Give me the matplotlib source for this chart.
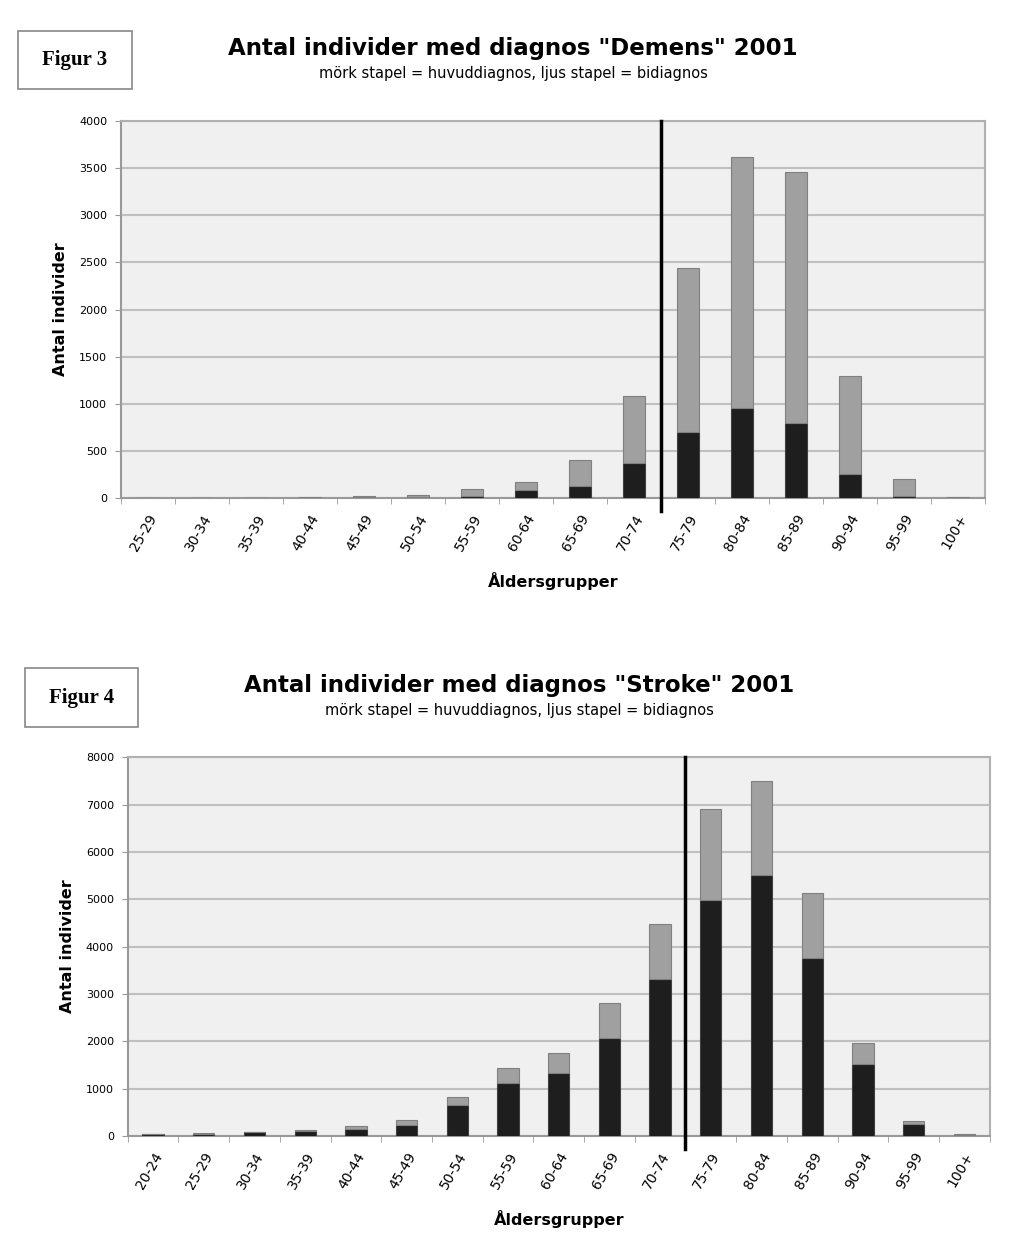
import numpy as np
import matplotlib.pyplot as plt
from matplotlib.patches import Rectangle

# Figur 3 - Demens
dem_groups = ["25-29", "30-34", "35-39", "40-44", "45-49", "50-54", "55-59", "60-64",
              "65-69", "70-74", "75-79", "80-84", "85-89", "90-94", "95-99", "100+"]
dem_main = [0, 0, 0, 3, 10, 15, 25, 85, 130, 368, 703, 951, 792, 254, 20, 3]
dem_total = [0, 0, 0, 15, 20, 35, 95, 172, 403, 1081, 2445, 3618, 3459, 1297, 198, 15]

# Figur 4 - Stroke
str_groups = ["20-24", "25-29", "30-34", "35-39", "40-44", "45-49", "50-54", "55-59", "60-64",
              "65-69", "70-74", "75-79", "80-84", "85-89", "90-94", "95-99", "100+"]
str_main = [40, 50, 75, 95, 148, 232, 648, 1127, 1338, 2064, 3317, 4987, 5515, 3768, 1515, 254, 30]
str_total = [45, 70, 85, 127, 211, 338, 817, 1430, 1747, 2803, 4473, 6904, 7489, 5128, 1958, 324, 35]

dark = "#1e1e1e"
light = "#a0a0a0"
subtitle = "mörk stapel = huvuddiagnos, ljus stapel = bidiagnos"

fig = plt.figure(figsize=(10.14, 12.45), dpi=100)


def draw_panel(rect, groups, main, total, ymax, ystep, split, title, fig_label, box, title_x, title_y):
    ax = fig.add_axes(rect)
    x = np.arange(len(groups))
    bidiag = np.array(total) - np.array(main)
    ax.set_facecolor("#f0f0f0")
    ax.bar(x, main, width=0.42, color=dark, edgecolor="#404040", linewidth=0.8, zorder=3)
    ax.bar(x, bidiag, bottom=main, width=0.42, color=light, edgecolor="#808080",
           linewidth=0.8, zorder=3)
    ax.set_xlim(-0.5, len(groups) - 0.5)
    ax.set_ylim(0, ymax)
    ax.set_yticks(np.arange(0, ymax + 1, ystep))
    ax.yaxis.grid(True, color="#c0c0c0", linewidth=1.5, zorder=0)
    ax.set_axisbelow(True)
    ax.tick_params(axis="y", labelsize=8, length=4, color="#999999", pad=6)
    ax.set_xticks(x)
    ax.set_xticklabels(groups, rotation=60, ha="right", rotation_mode="anchor", fontsize=10)
    ax.set_xticks(np.arange(-0.5, len(groups), 1), minor=True)
    ax.tick_params(axis="x", which="major", length=0, pad=10)
    ax.tick_params(axis="x", which="minor", length=4, color="#999999")
    for side in ["left", "bottom"]:
        ax.spines[side].set_color("#999999")
        ax.spines[side].set_linewidth(1.5)
    for side in ["top", "right"]:
        ax.spines[side].set_color("#b0b0b0")
        ax.spines[side].set_linewidth(1.5)
    ax.axvline(split, ymin=-0.035, ymax=1, color="black", linewidth=2.5, clip_on=False, zorder=5)
    ax.set_ylabel("Antal individer", fontsize=11.5, fontweight="bold", labelpad=8)
    ax.set_xlabel("Åldersgrupper", fontsize=11.5, fontweight="bold", labelpad=13)
    fig.text(title_x, title_y, title, ha="center", va="center", fontsize=16.5, fontweight="bold")
    fig.text(title_x, title_y - 0.0195, subtitle, ha="center", va="center", fontsize=10.5)
    bx, by, bw, bh = box
    fig.patches.append(Rectangle((bx, by), bw, bh, transform=fig.transFigure,
                                 facecolor="white", edgecolor="#888888", linewidth=1.2))
    fig.text(bx + bw / 2, by + bh / 2, fig_label, ha="center", va="center", fontsize=15,
             fontweight="bold", family="Liberation Serif")
    return ax


draw_panel([0.1193, 0.600, 0.852, 0.3028], dem_groups, dem_main, dem_total, 4000, 500, 9.5,
           'Antal individer med diagnos "Demens" 2001', "Figur 3",
           (18 / 1014, 1 - 89 / 1245, 114 / 1014, 58 / 1245), 513 / 1014, 1 - 49 / 1245)

draw_panel([0.126, 0.0876, 0.850, 0.3042], str_groups, str_main, str_total, 8000, 1000, 10.5,
           'Antal individer med diagnos "Stroke" 2001', "Figur 4",
           (25 / 1014, 1 - 727 / 1245, 113 / 1014, 59 / 1245), 519 / 1014, 1 - 686 / 1245)

fig.savefig("out.png", dpi=100, facecolor="white")
